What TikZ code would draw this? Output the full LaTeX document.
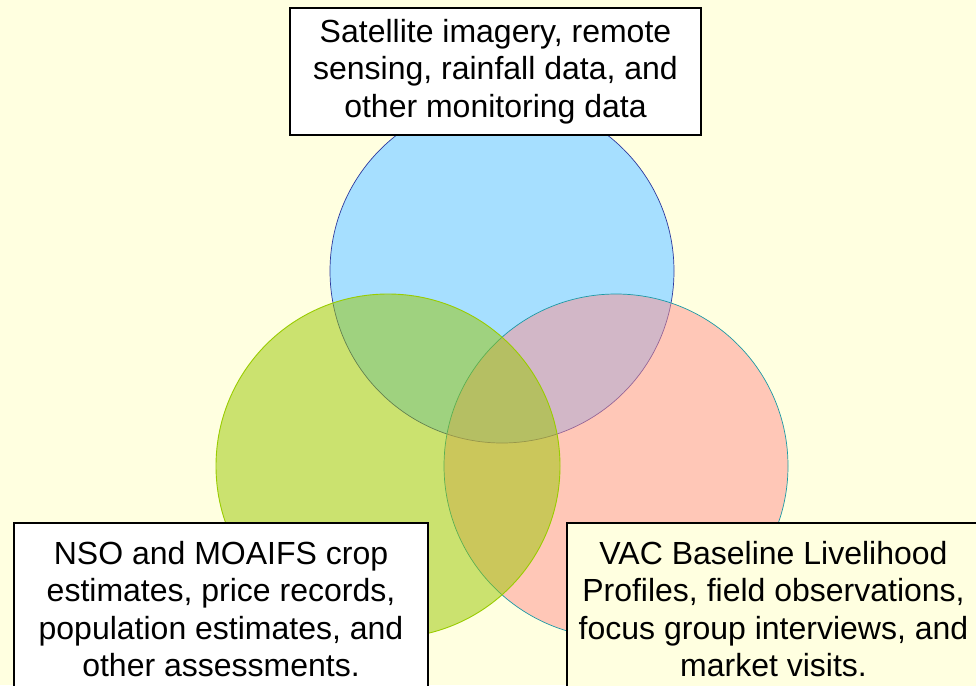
\documentclass[tikz,border=0pt]{standalone}
\usepackage{fontspec}
\setmainfont{Liberation Sans}
\definecolor{bgyellow}{HTML}{FFFFE0}
\definecolor{skyfill}{HTML}{A6DFFF}
\definecolor{skyline}{HTML}{2E3A9E}
\definecolor{leaffill}{HTML}{99C700}
\definecolor{leafline}{HTML}{99CC00}
\definecolor{rosefill}{HTML}{FF9190}
\definecolor{roseline}{HTML}{1C9AA6}
\begin{document}
\begin{tikzpicture}
  [x=1pt,y=-1pt,
   ring/.style={circle,minimum size=344pt,inner sep=0pt},
   srcbox/.style={draw=black,line width=1.4pt,align=center,inner sep=0pt,
                  font=\fontsize{32}{37.5}\selectfont}]
  \clip (0,0) rectangle (976,685);
  \fill[bgyellow] (0,0) rectangle (976,685);

  % the three sources
  \node (cSat) [ring,fill=skyfill,draw=skyline,line width=.7pt] at (502,271) {};
  \node (cVac) [ring,fill=rosefill,fill opacity=.5,draw=roseline,line width=.7pt] at (616,466) {};
  \node (cNso) [ring,fill=leaffill,fill opacity=.5,draw=leafline,line width=.9pt] at (388,466) {};

  \node (sat) [srcbox,fill=white,minimum width=411pt,minimum height=127pt] at (495.5,71.5)
    {Satellite imagery, remote\\sensing, rainfall data, and\\other monitoring data};
  \node (nso) [srcbox,fill=white,minimum width=414pt,minimum height=172pt] at (221,609)
    {NSO and MOAIFS crop\\estimates, price records,\\population estimates, and\\other assessments.};
  \node (vac) [srcbox,fill=bgyellow,minimum width=413pt,minimum height=172pt] at (773.5,609)
    {VAC Baseline Livelihood\\Profiles, field observations,\\focus group interviews, and\\market visits.};

\end{tikzpicture}
\end{document}
